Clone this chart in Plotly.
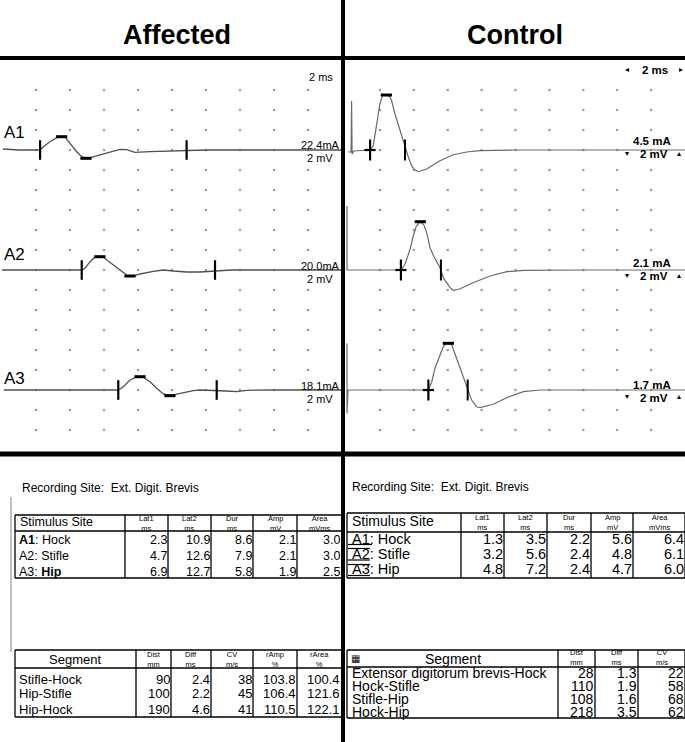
import plotly.graph_objects as go

W, H = 685, 742
FONT = "Liberation Sans, Arial, sans-serif"

# ---------------- waveforms: time (ms) / amplitude (mV) ----------------
# Affected limb
aff_a1_t = [0.05, 1.0, 2.24, 2.43, 2.82, 3.22, 3.51, 3.71, 4.0, 4.39, 4.69, 4.94, 5.3, 5.76, 6.35,
            6.94, 7.33, 7.82, 8.7, 9.69, 10.86, 12.0, 20.0]
aff_a1_v = [0.1, 0.0, 0.0, 0.33, 0.83, 1.23, 1.33, 1.3, 0.67, -0.17, -0.67, -0.83, -0.72, -0.5, -0.17,
            0.07, 0.03, -0.23, -0.17, -0.1, -0.05, 0.0, 0.0]
aff_a2_t = [0.0, 4.69, 4.88, 5.18, 5.47, 5.76, 5.96, 6.35, 6.94, 7.33, 7.53, 7.73, 8.12, 8.9, 9.49,
            10.08, 10.86, 11.65, 12.53, 13.5, 20.0]
aff_a2_v = [0.0, 0.0, 0.17, 0.83, 1.3, 1.33, 1.27, 0.73, 0.0, -0.5, -0.6, -0.6, -0.4, -0.13, 0.0,
            -0.1, -0.2, -0.2, -0.1, 0.0, 0.0]
aff_a3_t = [0.1, 6.84, 7.14, 7.53, 7.92, 8.12, 8.31, 8.71, 9.1, 9.49, 9.88, 10.67, 11.25, 11.65,
            12.43, 13.2, 13.8, 14.4, 16.0, 20.0]
aff_a3_v = [0.0, 0.0, 0.33, 1.0, 1.3, 1.33, 1.27, 0.83, 0.17, -0.4, -0.57, -0.27, -0.07, 0.0,
            -0.03, -0.1, -0.17, -0.03, 0.0, 0.0]

aff_ticks_t = [[2.24, 10.86], [4.69, 12.53], [6.84, 12.63]]
aff_bars_t = [[3.51, 4.94], [5.76, 7.53], [8.12, 9.88]]
aff_bars_v = [[1.33, -0.83], [1.33, -0.6], [1.33, -0.57]]
aff_ma = ["22.4mA", "20.0mA", "18.1mA"]

# Control limb
ctl_a1_t = [0.12, 0.3, 0.33, 0.36, 0.45, 1.0, 1.42, 1.61, 1.81, 2.0, 2.16, 2.38, 2.6, 2.69, 2.89,
            3.19, 3.48, 3.68, 3.87, 4.07, 4.27, 4.76, 5.54, 6.33, 7.12, 7.9, 10.0, 14.0, 20.0]
ctl_a1_v = [-0.2, -0.2, 4.9, -0.4, -0.1, -0.05, 0.0, 0.43, 2.6, 4.6, 5.5, 5.5, 5.3, 4.93, 3.6,
            1.93, 0.53, -0.73, -1.57, -2.0, -2.17, -1.9, -1.07, -0.47, -0.2, -0.07, 0.0, 0.03, 0.0]
ctl_a2_t = [0.06, 0.06, 0.12, 3.24, 3.48, 3.68, 3.78, 3.97, 4.15, 4.38, 4.6, 4.76, 4.96, 5.2, 5.4,
            5.55, 5.74, 6.14, 6.33, 6.7, 7.5, 8.5, 9.5, 10.5, 14.0, 20.0]
ctl_a2_v = [6.4, 0.0, 0.0, 0.0, 0.57, 1.57, 2.07, 3.4, 4.4, 4.83, 4.5, 3.73, 2.2, 1.3, 0.7,
            0.23, -0.77, -1.77, -2.03, -1.9, -1.27, -0.6, -0.17, -0.03, 0.0, 0.0]
ctl_a3_t = [0.06, 0.06, 0.12, 4.86, 5.06, 5.25, 5.55, 5.74, 5.94, 6.04, 6.24, 6.53, 6.83, 7.18,
            7.41, 7.71, 7.9, 8.69, 9.48, 10.46, 11.45, 20.0]
ctl_a3_v = [4.67, -2.33, 0.0, 0.0, 0.83, 2.17, 3.5, 4.33, 4.67, 4.67, 4.5, 3.17, 1.83, 0.17,
            -1.0, -1.67, -1.77, -1.43, -0.77, -0.17, 0.0, 0.0]

ctl_plus_t = [1.42, 3.24, 4.86]
ctl_peak_t = [2.38, 4.38, 6.04]
ctl_peak_v = [5.5, 4.83, 4.67]
ctl_lat2_t = [3.48, 5.6, 7.18]
ctl_ma = ["4.5 mA", "2.1 mA", "1.7 mA"]

# ---------------- tables ----------------
stim_heads = ["Lat1", "Lat2", "Dur", "Amp", "Area"]
stim_units = ["ms", "ms", "ms", "mV", "mVms"]

aff_sites = ["<b>A1</b>: Hock", "A2: Stifle", "A3: <b>Hip</b>"]
aff_lat1 = [2.3, 4.7, 6.9]
aff_lat2 = [10.9, 12.6, 12.7]
aff_dur = [8.6, 7.9, 5.8]
aff_amp = [2.1, 2.1, 1.9]
aff_area = [3.0, 3.0, 2.5]

ctl_sites = ["A1: Hock", "A2: Stifle", "A3: Hip"]
ctl_lat1 = [1.3, 3.2, 4.8]
ctl_lat2 = [3.5, 5.6, 7.2]
ctl_dur = [2.2, 2.4, 2.4]
ctl_amp = [5.6, 4.8, 4.7]
ctl_area = [6.4, 6.1, 6.0]

aff_seg_heads = ["Dist", "Diff", "CV", "rAmp", "rArea"]
aff_seg_units = ["mm", "ms", "m/s", "%", "%"]
aff_segments = ["Stifle-Hock", "Hip-Stifle", "Hip-Hock"]
aff_dist = [90, 100, 190]
aff_diff = [2.4, 2.2, 4.6]
aff_cv = [38, 45, 41]
aff_ramp = [103.8, 106.4, 110.5]
aff_rarea = [100.4, 121.6, 122.1]

ctl_seg_heads = ["Dist", "Diff", "CV"]
ctl_seg_units = ["mm", "ms", "m/s"]
ctl_segments = ["Extensor digitorum brevis-Hock", "Hock-Stifle", "Stifle-Hip", "Hock-Hip"]
ctl_dist = [28, 110, 108, 218]
ctl_diff = [1.3, 1.9, 1.6, 3.5]
ctl_cv = [22, 58, 68, 62]

base = [-9, -21, -33]   # baseline of A1, A2, A3 on the trace axes

fig = go.Figure()
shapes = []
annots = []


def label(x, y, text, size=12, anchor="left", color="black", family=FONT):
    annots.append(dict(x=x / W, y=1 - y / H, xref="paper", yref="paper", text=text,
                       showarrow=False, xanchor=anchor, yanchor="middle", borderpad=0,
                       font=dict(size=size, color=color, family=family)))


def line(x0, y0, x1, y1, w=1.3, color="black"):
    shapes.append(dict(type="line", xref="paper", yref="paper", x0=x0 / W, x1=x1 / W,
                       y0=1 - y0 / H, y1=1 - y1 / H, line=dict(color=color, width=w)))


# ---- grid dots ----
dot_x = []
dot_y = []
for k in range(18):
    for j in range(1, 10):
        dot_x.append(2 * j)
        dot_y.append(-3 - 2 * k)
for ax in ["", "2"]:
    fig.add_trace(go.Scatter(x=dot_x, y=dot_y, mode="markers", xaxis="x" + ax, yaxis="y" + ax,
                             marker=dict(size=2.2, color="#9a9a9a", symbol="square"),
                             hoverinfo="skip"))

# ---- affected traces ----
aff_t = [aff_a1_t, aff_a2_t, aff_a3_t]
aff_v = [aff_a1_v, aff_a2_v, aff_a3_v]
for i in range(3):
    b = base[i]
    fig.add_trace(go.Scatter(x=aff_t[i], y=[v + b for v in aff_v[i]], mode="lines",
                             xaxis="x", yaxis="y", line=dict(color="#505050", width=1.3)))
    fig.add_trace(go.Scatter(x=aff_ticks_t[i], y=[b, b], mode="markers", xaxis="x", yaxis="y",
                             marker=dict(symbol="line-ns", size=14,
                                         line=dict(width=2.2, color="black"))))
    fig.add_trace(go.Scatter(x=aff_bars_t[i], y=[v + b for v in aff_bars_v[i]], mode="markers",
                             xaxis="x", yaxis="y",
                             marker=dict(symbol="line-ew", size=8,
                                         line=dict(width=3, color="black"))))

# ---- control traces ----
ctl_t = [ctl_a1_t, ctl_a2_t, ctl_a3_t]
ctl_v = [ctl_a1_v, ctl_a2_v, ctl_a3_v]
for i in range(3):
    b = base[i]
    fig.add_trace(go.Scatter(x=ctl_t[i], y=[v + b for v in ctl_v[i]], mode="lines",
                             xaxis="x2", yaxis="y2", line=dict(color="#6a6a6a", width=1.2)))
    fig.add_trace(go.Scatter(x=[ctl_plus_t[i]], y=[b], mode="markers", xaxis="x2", yaxis="y2",
                             marker=dict(symbol="line-ns", size=15,
                                         line=dict(width=2.2, color="black"))))
    fig.add_trace(go.Scatter(x=[ctl_plus_t[i]], y=[b], mode="markers", xaxis="x2", yaxis="y2",
                             marker=dict(symbol="line-ew", size=8,
                                         line=dict(width=2.2, color="black"))))
    fig.add_trace(go.Scatter(x=[ctl_lat2_t[i]], y=[b], mode="markers", xaxis="x2", yaxis="y2",
                             marker=dict(symbol="line-ns", size=15,
                                         line=dict(width=2, color="black"))))
    fig.add_trace(go.Scatter(x=[ctl_peak_t[i]], y=[ctl_peak_v[i] + b], mode="markers",
                             xaxis="x2", yaxis="y2",
                             marker=dict(symbol="line-ew", size=8,
                                         line=dict(width=3, color="black"))))

# ---- frame lines ----
line(343, 0, 343, H, w=4)
line(0, 58, W, 58, w=4)
line(0, 454, W, 454, w=5)

# ---- titles ----
label(177, 35, "<b>Affected</b>", size=27, anchor="center")
label(515, 35, "<b>Control</b>", size=27, anchor="center")

# ---- trace labels, affected ----
label(334, 77, "2 ms", size=11, anchor="right")
lab_y = [132, 255, 378]
ma_y = [145, 266, 386]
for i in range(3):
    label(3, lab_y[i], "A%d" % (i + 1), size=17)
    label(341, ma_y[i], aff_ma[i], size=11, anchor="right")
    label(334, ma_y[i] + 13, "2 mV", size=11, anchor="right")

# ---- trace labels, control ----
label(655, 70, "<b>2 ms</b>", size=11.5, anchor="center")
label(627, 70, "◂", size=8, anchor="center", family="DejaVu Sans")
label(681, 70, "▸", size=8, anchor="center", family="DejaVu Sans")
cma_y = [141, 263, 385]
for i in range(3):
    label(672, cma_y[i], "<b>%s</b>" % ctl_ma[i], size=11.5, anchor="right")
    label(654, cma_y[i] + 13, "<b>2 mV</b>", size=11.5, anchor="center")
    label(627, cma_y[i] + 12, "▾", size=8, anchor="center", family="DejaVu Sans")
    label(679, cma_y[i] + 12, "▴", size=8, anchor="center", family="DejaVu Sans")

# ---- bottom: recording site ----
label(21, 488, "Recording Site:\u00a0\u00a0Ext. Digit. Brevis", size=12)
label(351, 487, "Recording Site:\u00a0\u00a0Ext. Digit. Brevis", size=12)
line(11, 497, 11, 652, w=2, color="#c0c0c0")


def table(x0, x1, y0, y1, yh, cols):
    line(x0, y0, x1, y0)
    line(x0, y1, x1, y1)
    line(x0, y0, x0, y1)
    line(x1, y0, x1, y1)
    line(x0, yh, x1, yh)
    for c in cols:
        line(c, y0, c, y1)


def heads(cols, x1, names, units, yc, size=7.5):
    edges = cols + [x1]
    for j in range(len(names)):
        xc = (edges[j] + edges[j + 1]) / 2
        label(xc, yc, names[j] + "<br>" + units[j], size=size, anchor="center")


# left stimulus table
c1 = [125, 168, 211, 253, 297]
table(15, 342, 515, 578, 531, c1)
label(19, 522, "Stimulus Site", size=12.5)
heads(c1, 341, stim_heads, stim_units, 523)
ry1 = [540, 556, 572]
aff_stim = [aff_lat1, aff_lat2, aff_dur, aff_amp, aff_area]
for r in range(3):
    label(18, ry1[r], aff_sites[r], size=12.5)
for j, col in enumerate(aff_stim):
    xr = (c1 + [341])[j + 1] - 0.5
    for r, v in enumerate(col):
        label(xr, ry1[r], "%.1f" % v, size=12.5, anchor="right")

# left segment table
c2 = [136, 171, 211, 253, 297]
table(15, 343, 650, 717, 668, c2)
label(75, 659, "Segment", size=13, anchor="center")
heads(c2, 341, aff_seg_heads, aff_seg_units, 659)
ry2 = [679, 693, 709]
aff_seg = [aff_dist, aff_diff, aff_cv, aff_ramp, aff_rarea]
seg_fmt = ["%d", "%.1f", "%d", "%.1f", "%.1f"]
for r in range(3):
    label(18, ry2[r], aff_segments[r], size=13)
for j, col in enumerate(aff_seg):
    xr = (c2 + [341])[j + 1] - 0.5
    for r, v in enumerate(col):
        label(xr, ry2[r], seg_fmt[j] % v, size=13, anchor="right")

# right stimulus table
c3 = [461, 504, 547, 591, 633]
table(347, 685, 513, 578, 532, c3)
label(351, 521, "Stimulus Site", size=14)
heads(c3, 685, stim_heads, stim_units, 522)
ry3 = [538.5, 553.5, 569]
ctl_stim = [ctl_lat1, ctl_lat2, ctl_dur, ctl_amp, ctl_area]
for r in range(3):
    label(351, ry3[r], ctl_sites[r], size=14.5)
for j, col in enumerate(ctl_stim):
    xr = (c3 + [685])[j + 1] - 0.5
    for r, v in enumerate(col):
        label(xr, ry3[r], "%.1f" % v, size=14.5, anchor="right")
for yy, xe in [(544.5, 372), (548.5, 370), (560, 370), (564.5, 370), (575.5, 370)]:
    line(348, yy, xe, yy, w=1.2)

# right segment table
c4 = [558, 595, 638]
table(347, 685, 650, 718, 667, c4)
label(453, 659, "Segment", size=14, anchor="center")
label(355, 658, "▦", size=10, anchor="center", family="DejaVu Sans")
heads(c4, 685, ctl_seg_heads, ctl_seg_units, 657.5)
ry4 = [672.5, 686, 699, 712]
ctl_seg = [ctl_dist, ctl_diff, ctl_cv]
cseg_fmt = ["%d", "%.1f", "%d"]
for r in range(4):
    label(351, ry4[r], ctl_segments[r], size=14)
for j, col in enumerate(ctl_seg):
    xr = (c4 + [685])[j + 1] - 0.5
    for r, v in enumerate(col):
        label(xr, ry4[r], cseg_fmt[j] % v, size=14, anchor="right")

ydom = [1 - 454 / H, 1 - 60 / H]
ax_off = dict(visible=False, showgrid=False, zeroline=False, fixedrange=True)
fig.update_layout(
    width=W, height=H,
    margin=dict(l=0, r=0, t=0, b=0),
    paper_bgcolor="white", plot_bgcolor="white",
    showlegend=False,
    xaxis=dict(domain=[2 / W, 342 / W], range=[0, 20], anchor="y", **ax_off),
    yaxis=dict(domain=ydom, range=[-39.4, 0], anchor="x", **ax_off),
    xaxis2=dict(domain=[346 / W, 1.0], range=[0, 20], anchor="y2", **ax_off),
    yaxis2=dict(domain=ydom, range=[-39.4, 0], anchor="x2", **ax_off),
    shapes=shapes,
    annotations=annots,
    font=dict(family=FONT),
)

fig.write_html("out.html", config={"displayModeBar": False},
               post_script="document.body.style.margin='0';document.body.style.overflow='hidden';")
